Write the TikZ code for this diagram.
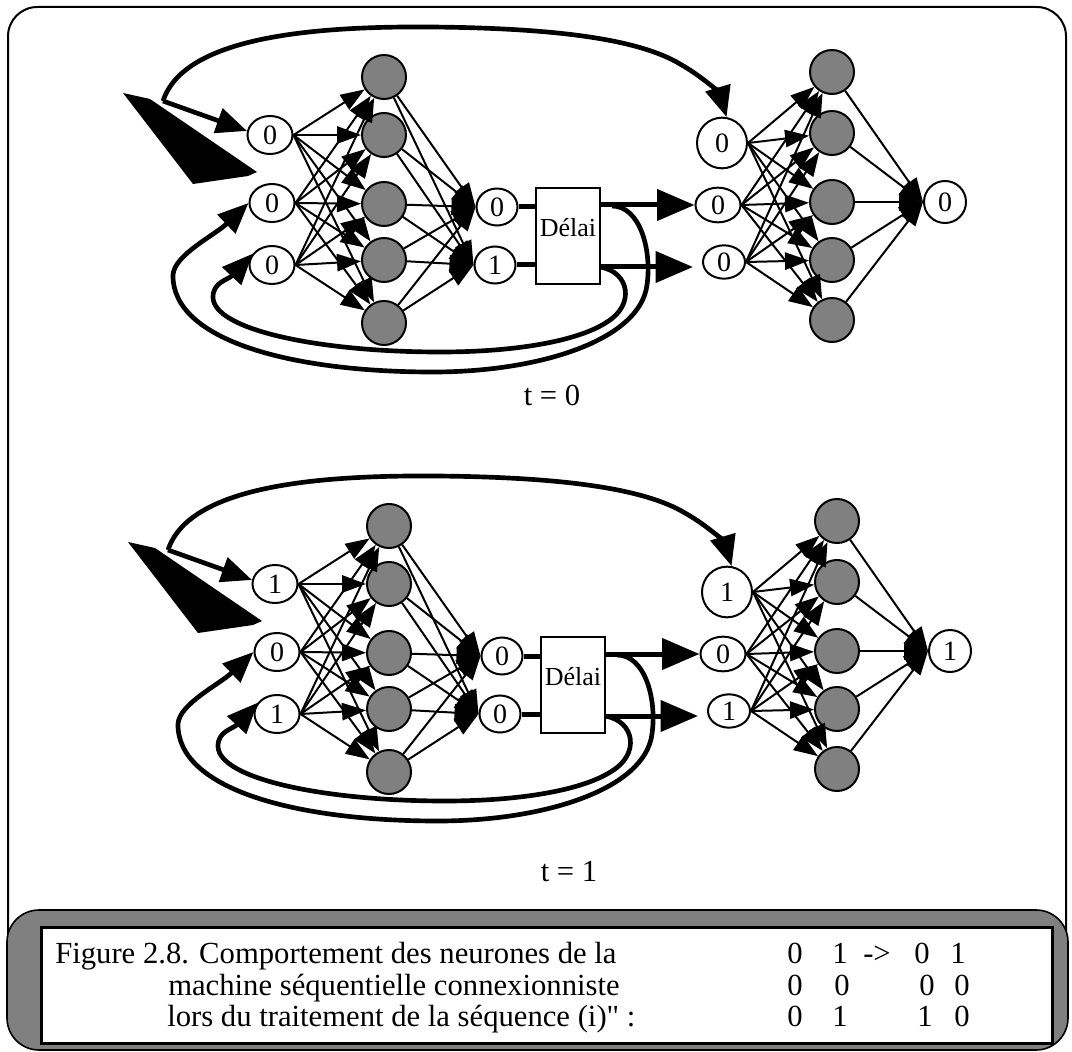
\documentclass[tikz,border=0pt]{standalone}
\usepackage{fontspec}
\setmainfont{Liberation Serif}
\newfontfamily\rawserif{Liberation Serif}[Ligatures=TeXOff]
\usetikzlibrary{arrows.meta,shapes.geometric}
\definecolor{nodegray}{HTML}{808080}
\newcommand\lblfont{\fontsize{21}{24}\selectfont}
\newcommand\boxfont{\fontsize{19.5}{22}\selectfont}
\newcommand\capfont{\fontsize{23}{27}\selectfont}
\newcommand\seqnet[7]{%
  % layers
  \node[inp] (#1I1) at (270,135) {#2};
  \node[inp] (#1I2) at (272,203) {#3};
  \node[inp] (#1I3) at (272,265) {#4};
  \foreach \j/\yy in {1/77,2/135,3/204,4/260,5/323}
    \node[hid] (#1H\j) at (384,\yy) {};
  \node[outp] (#1O1) at (497,207) {#5};
  \node[outp] (#1O2) at (495,265) {#6};
  \node[delaybox] (#1D) at (568,236) {};
  \node[font=\boxfont, inner sep=0pt] (#1Dt) at (568,228) {Délai};
  \node[inp, minimum width=37.5pt, minimum height=38pt] (#1R1) at (722,143) {#2};
  \node[inp, minimum width=33.75pt, minimum height=26pt] (#1R2) at (718,205) {#3};
  \node[inp, minimum width=31.5pt, minimum height=25pt] (#1R3) at (724,262) {#4};
  \foreach \j/\yy in {1/72,2/133,3/202,4/260,5/320}
    \node[hid] (#1G\j) at (832,\yy) {};
  \node[inp, minimum width=31.5pt, minimum height=31.5pt] (#1F) at (945,202) {#7};
  % weights
  \foreach \i in {1,2,3} \foreach \j in {1,...,5} {
    \draw[thinarr] (#1I\i.east) -- (#1H\j);
    \draw[thinarr] (#1R\i.east) -- (#1G\j);
  }
  \foreach \j in {1,...,5} {
    \draw[thinarr] (#1H\j) -- (#1O1.west);
    \draw[thinarr] (#1H\j) -- (#1O2.west);
    \draw[thinarr] (#1G\j) -- (#1F.west);
  }
  % delay lines
  \draw[thickline] (#1O1.east) -- (#1D.west |- #1O1.east);
  \draw[thickline] (#1O2.east) -- (#1D.west |- #1O2.east);
  \coordinate (#1a2) at (693,267);
  \draw[bigarr] (#1D.east |- #1R2.west) -- (#1R2.west);
  \draw[bigarr] (#1D.east |- #1a2) -- (#1a2);
  % input blob
  \coordinate (#1src) at (163,101);
  \fill (123,93) -- (150,99) -- (257,172) -- (248,176) -- (193,184) -- cycle;
  \draw[thickarr] (#1src) -- (#1I1.170);
  \draw[thickarr] (#1src) .. controls (183,40) and (300,26) .. (430,27)
     .. controls (560,28) and (640,40) .. (680,64)
     .. controls (705,78) and (720,95) .. (#1R1.80);
  % feedback loops
  \coordinate (#1lo) at (612,206);
  \draw[thickarr] (#1lo) .. controls (640,206) and (652,250) .. (647,285)
     .. controls (640,340) and (540,372) .. (433,372)
     .. controls (290,372) and (172,340) .. (173,275)
     .. controls (174,255) and (215,235) .. (#1I2.west);
  \coordinate (#1li) at (600,267);
  \draw[thickarr] (#1li) .. controls (630,272) and (635,305) .. (607,322)
     .. controls (580,340) and (520,352) .. (440,352)
     .. controls (320,352) and (213,330) .. (213,297)
     .. controls (213,282) and (228,280) .. (#1I3.150);
}
\begin{document}
\begin{tikzpicture}[x=0.75pt,y=-0.75pt,
  inp/.style={ellipse, draw, fill=white, line width=1.5pt, inner sep=0pt,
    minimum width=33.75pt, minimum height=28.5pt, font=\lblfont},
  outp/.style={ellipse, draw, fill=white, line width=1.5pt, inner sep=0pt,
    minimum width=30.75pt, minimum height=27.75pt, font=\lblfont},
  hid/.style={circle, draw, fill=nodegray, line width=1.5pt, minimum size=33pt, inner sep=0pt},
  delaybox/.style={rectangle, draw, fill=white, line width=1.5pt,
    minimum width=48pt, minimum height=72pt, inner sep=0pt},
  thinarr/.style={line width=1.5pt, -{Triangle[length=18pt,width=13pt]}},
  thickline/.style={line width=3.75pt},
  thickarr/.style={line width=3.5pt, -{Triangle[length=23pt,width=19pt]}},
  bigarr/.style={line width=3.75pt, -{Triangle[length=28pt,width=23pt]}},
  tlabel/.style={font=\capfont, inner sep=0pt},
  captext/.style={font=\capfont, inner sep=0pt}]
\useasboundingbox (0,0) rectangle (1072,1052);
\draw[line width=1.5pt, rounded corners=22pt] (8,7) rectangle (1066,1045);

\seqnet{a}{0}{0}{0}{0}{1}{0}
\begin{scope}[shift={(5,449)}]
  \seqnet{b}{1}{0}{1}{0}{0}{1}
\end{scope}

\node[tlabel, anchor=base] (t0) at (552,405) {t = 0};
\node[tlabel, anchor=base] (t1) at (569,881) {t = 1};

% caption panel
\draw[fill=nodegray, line width=1.2pt, rounded corners=24pt] (7,910) rectangle (1068,1050);
\draw[fill=white, line width=2.25pt] (41,927) rectangle (1052,1043);
\node[captext, anchor=base west] (cap1) at (55,963) {Figure 2.8. Comportement des neurones de la};
\node[captext, anchor=base west] (cap2) at (168,995) {machine séquentielle connexionniste};
\node[captext, anchor=base west] (cap3) at (167,1026) {lors du traitement de la séquence (i){\rawserif"} :};
\node[captext, anchor=base] (c11) at (795,963) {0};
\node[captext, anchor=base] (c12) at (840,963) {1};
\node[captext, anchor=base] (c13) at (877,963) {->};
\node[captext, anchor=base] (c14) at (922,963) {0};
\node[captext, anchor=base] (c15) at (958,963) {1};
\node[captext, anchor=base] (c21) at (795,995) {0};
\node[captext, anchor=base] (c22) at (842,995) {0};
\node[captext, anchor=base] (c23) at (927,995) {0};
\node[captext, anchor=base] (c24) at (962,995) {0};
\node[captext, anchor=base] (c31) at (795,1026) {0};
\node[captext, anchor=base] (c32) at (840,1026) {1};
\node[captext, anchor=base] (c33) at (925,1026) {1};
\node[captext, anchor=base] (c34) at (962,1026) {0};
\end{tikzpicture}
\end{document}
